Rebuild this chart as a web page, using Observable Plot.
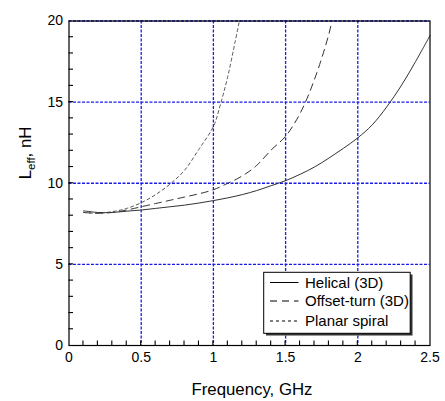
<!DOCTYPE html>
<html><head><meta charset="utf-8">
<script src="https://cdn.jsdelivr.net/npm/d3@7"></script>
<script src="https://cdn.jsdelivr.net/npm/@observablehq/plot@0.6"></script>
<style>body{margin:0;background:#fff}</style>
</head><body><div id="chart"></div>
<script>
const helicalF = [0.1,0.2,0.3,0.4,0.5,0.6,0.7,0.8,0.9,1.0,1.1,1.2,1.3,1.4,1.5,1.6,1.7,1.8,1.9,2.0,2.1,2.2,2.3,2.4,2.5];
const helicalL = [8.3,8.2,8.2,8.28,8.35,8.45,8.55,8.65,8.78,8.93,9.1,9.3,9.55,9.85,10.16,10.55,11.0,11.55,12.15,12.8,13.6,14.7,16.0,17.5,19.1];
const offsetF = [0.1,0.2,0.3,0.4,0.5,0.6,0.7,0.8,0.9,1.0,1.1,1.2,1.3,1.4,1.5,1.6,1.7,1.8,1.82];
const offsetL = [8.2,8.15,8.2,8.35,8.55,8.75,8.95,9.15,9.35,9.6,10.0,10.45,11.1,12.05,12.9,14.3,16.4,19.2,20];
const planarF = [0.1,0.2,0.3,0.4,0.5,0.6,0.7,0.8,0.9,1.0,1.05,1.1,1.15,1.18];
const planarL = [8.2,8.15,8.25,8.45,8.8,9.3,9.95,10.8,12.1,13.5,14.9,16.6,18.7,20];
const seriesNames = ["Helical (3D)","Offset-turn (3D)","Planar spiral"];
const dashes = [null,"7,5","3,3"];
const xMajor = [0,0.5,1,1.5,2,2.5];
const xMinor = d3.range(1,25).map(i=>i/10);
const yMajor = [0,5,10,15,20];
const yMinor = d3.range(1,20);
const xGrid = [0.5,1,1.5,2];
const yGrid = [5,10,15,20];

const toRows = (F,L) => F.map((f,i)=>({f, L:L[i]}));
const font = "Liberation Sans, Arial, Helvetica, sans-serif";

const plot = Plot.plot({
  width: 445, height: 401,
  marginLeft: 68.5, marginRight: 15.5, marginTop: 20.5, marginBottom: 56,
  style: {fontFamily: font, fontSize: "14px", background: "#fff", color: "#000"},
  x: {domain: [0,2.5]},
  y: {domain: [0,20]},
  marks: [
    Plot.ruleX(xGrid, {stroke: "#1a1ae6", strokeWidth: 1.3, strokeDasharray: "3,1.5"}),
    Plot.ruleY(yGrid, {stroke: "#1a1ae6", strokeWidth: 1.3, strokeDasharray: "3,1.5"}),
    Plot.axisX(xMajor, {tickSize: 0, tickPadding: 7, anchor: "bottom", label: null, fontSize: 14, tickFormat: d => String(d)}),
    Plot.axisY(yMajor, {tickSize: 0, tickPadding: 6, anchor: "left", label: null, fontSize: 14, tickFormat: d => String(d)}),
    Plot.line(toRows(helicalF, helicalL), {x: "f", y: "L", stroke: "#333", strokeWidth: 1, curve: "catmull-rom"}),
    Plot.line(toRows(offsetF, offsetL), {x: "f", y: "L", stroke: "#333", strokeWidth: 1, strokeDasharray: dashes[1], curve: "catmull-rom"}),
    Plot.line(toRows(planarF, planarL), {x: "f", y: "L", stroke: "#444", strokeWidth: 0.9, strokeDasharray: dashes[2], curve: "catmull-rom"}),
    Plot.frame({stroke: "#000", strokeWidth: 1.2})
  ]
});
document.getElementById("chart").append(plot);

const svg = d3.select(plot);
const sx = plot.scale("x"), sy = plot.scale("y");
const x0 = sx.apply(0), y0 = sy.apply(0);
// inward minor ticks via the plot's own scales
const tg = svg.append("g").attr("stroke", "#000").attr("stroke-width", 1.1);
xMinor.forEach(v => tg.append("line").attr("x1", sx.apply(v)).attr("x2", sx.apply(v)).attr("y1", y0).attr("y2", y0 - 4.5));
yMinor.forEach(v => tg.append("line").attr("y1", sy.apply(v)).attr("y2", sy.apply(v)).attr("x1", x0).attr("x2", x0 + 4.5));
// x axis title
svg.append("text").attr("x", 252).attr("y", 395).attr("text-anchor","middle")
  .attr("font-family", font).attr("font-size", 16.8).attr("fill","#000").text("Frequency, GHz");
// y axis title with subscript
const yt = svg.append("text").attr("transform","translate(31,153) rotate(-90)").attr("text-anchor","middle")
  .attr("font-family", font).attr("font-size", 16.8).attr("fill","#000");
yt.append("tspan").text("L");
yt.append("tspan").attr("font-size", 11.5).attr("dy", 4).text("eff");
yt.append("tspan").attr("dy", -4).text(", nH");

// legend
const lg = svg.append("g");
lg.append("rect").attr("x", 266).attr("y", 274.5).attr("width", 146.5).attr("height", 61).attr("fill", "#333");
lg.append("rect").attr("x", 263.7).attr("y", 272.3).attr("width", 146.5).attr("height", 61).attr("fill", "#fff").attr("stroke","#000").attr("stroke-width",1);
seriesNames.forEach((name,i) => {
  const yy = [282.5, 301, 321][i];
  lg.append("line").attr("x1", 270).attr("x2", 298.5).attr("y1", yy).attr("y2", yy)
    .attr("stroke","#000").attr("stroke-width",1).attr("stroke-dasharray", dashes[i]);
  lg.append("text").attr("x", 305).attr("y", yy+5).attr("text-anchor","start").attr("font-family", font).attr("font-size", 15).attr("fill","#000").text(name);
});
</script>
</body></html>
